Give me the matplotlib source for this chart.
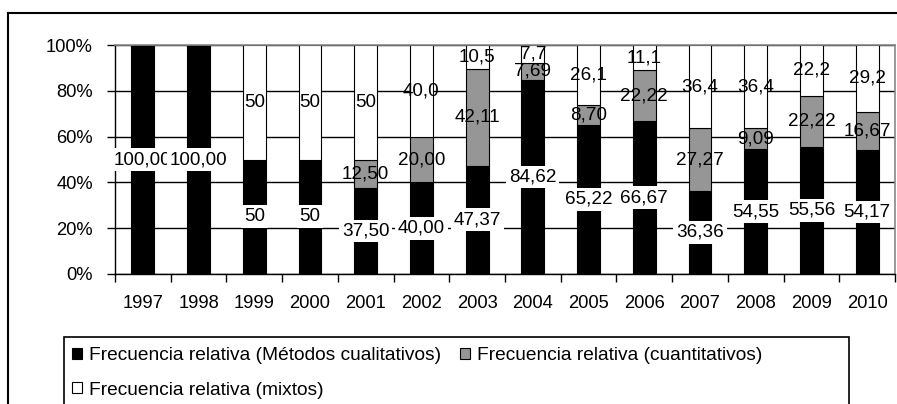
import matplotlib.pyplot as plt
from matplotlib.patches import Rectangle
from matplotlib.lines import Line2D

plt.rcParams['font.family'] = ['Liberation Sans', 'DejaVu Sans']

years = ['1997', '1998', '1999', '2000', '2001', '2002', '2003',
         '2004', '2005', '2006', '2007', '2008', '2009', '2010']
cualitativos = [100, 100, 50, 50, 37.5, 40, 47.37, 84.62, 65.22, 66.67, 36.36, 54.55, 55.56, 54.17]
cuantitativos = [0, 0, 0, 0, 12.5, 20, 42.11, 7.69, 8.70, 22.22, 27.27, 9.09, 22.22, 16.67]
mixtos = [0, 0, 50, 50, 50, 40, 10.5, 7.7, 26.1, 11.1, 36.4, 36.4, 22.2, 29.2]

lab_cual = ['100,00', '100,00', '50', '50', '37,50', '40,00', '47,37', '84,62', '65,22',
            '66,67', '36,36', '54,55', '55,56', '54,17']
lab_cuan = ['', '', '', '', '12,50', '20,00', '42,11', '7,69', '8,70', '22,22', '27,27',
            '9,09', '22,22', '16,67']
lab_mix = ['', '', '50', '50', '50', '40,0', '10,5', '7,7', '26,1', '11,1', '36,4', '36,4',
           '22,2', '29,2']

W, H = 897, 404
fig = plt.figure(figsize=(W / 100, H / 100), dpi=100)
ax = fig.add_axes([115 / W, 1 - 274 / H, 780 / W, 229 / H])

x = list(range(len(years)))
bw = 0.41
tot = [a + b + c for a, b, c in zip(cualitativos, cuantitativos, mixtos)]
f1 = [a / t for a, t in zip(cualitativos, tot)]
f2 = [b / t for b, t in zip(cuantitativos, tot)]
f3 = [c / t for c, t in zip(mixtos, tot)]
b2 = f1
b3 = [a + b for a, b in zip(f1, f2)]

h1 = ax.bar(x, f1, bw, color='black', edgecolor='black', lw=0.8, zorder=2,
            label='Frecuencia relativa (Métodos cualitativos)')
h2 = ax.bar(x, f2, bw, bottom=b2, color='#969696', edgecolor='black', lw=0.8, zorder=2,
            label='Frecuencia relativa (cuantitativos)')
h3 = ax.bar(x, f3, bw, bottom=b3, color='white', edgecolor='black', lw=0.8, zorder=2,
            label='Frecuencia relativa (mixtos)')

fs_lab = 13.6
for i in x:
    if lab_cual[i]:
        ax.text(i, f1[i] / 2, lab_cual[i], ha='center', va='center', fontsize=fs_lab, zorder=5,
                bbox=dict(facecolor='white', edgecolor='none', pad=2))
    if lab_cuan[i]:
        ax.text(i, b2[i] + f2[i] / 2, lab_cuan[i], ha='center', va='center', fontsize=fs_lab, zorder=4)
    if lab_mix[i]:
        ax.text(i, b3[i] + f3[i] / 2, lab_mix[i], ha='center', va='center', fontsize=fs_lab, zorder=4)

ax.set_xlim(-0.5, len(years) - 0.5)
ax.set_ylim(0, 1)
ax.set_yticks([0, 0.2, 0.4, 0.6, 0.8, 1.0])
ax.set_yticklabels(['0%', '20%', '40%', '60%', '80%', '100%'], fontsize=13.2)
ax.set_xticks([i - 0.5 for i in range(len(years) + 1)])
ax.set_xticklabels([])
ax.set_xticks(x, minor=True)
ax.set_xticklabels(years, minor=True, fontsize=13.2)
ax.tick_params(axis='x', which='minor', length=0, pad=15)
ax.tick_params(axis='x', which='major', length=6, width=1, direction='out')
ax.tick_params(axis='y', length=6, width=1, direction='out', pad=10)
ax.yaxis.grid(True, color='black', lw=1, zorder=0)
ax.set_axisbelow(True)
for s in ['left', 'bottom']:
    ax.spines[s].set_color('black')
    ax.spines[s].set_linewidth(1)
for s in ['top', 'right']:
    ax.spines[s].set_color('#888888')
    ax.spines[s].set_linewidth(1.2)

# outer chart border
fig.add_artist(Line2D([8 / W, 8 / W], [1 - 13 / H, 0], color='black', lw=1.5))
fig.add_artist(Line2D([8 / W, 1], [1 - 13 / H, 1 - 13 / H], color='black', lw=1.5))

# legend box
fig.add_artist(Rectangle((64 / W, -0.1), (849 - 64) / W, 0.1 + (H - 337) / H,
                         fill=False, edgecolor='black', lw=1.2, transform=fig.transFigure))
fig.legend([h1, h3, h2], [h1.get_label(), h3.get_label(), h2.get_label()],
           ncol=2, loc='upper left', bbox_to_anchor=(72 / W, 1 - 347 / H),
           frameon=False, fontsize=13.8, borderpad=0, borderaxespad=0,
           handlelength=0.52, handleheight=0.52, handletextpad=0.36,
           columnspacing=1.0, labelspacing=0.92)

plt.savefig('out.png', dpi=100)
